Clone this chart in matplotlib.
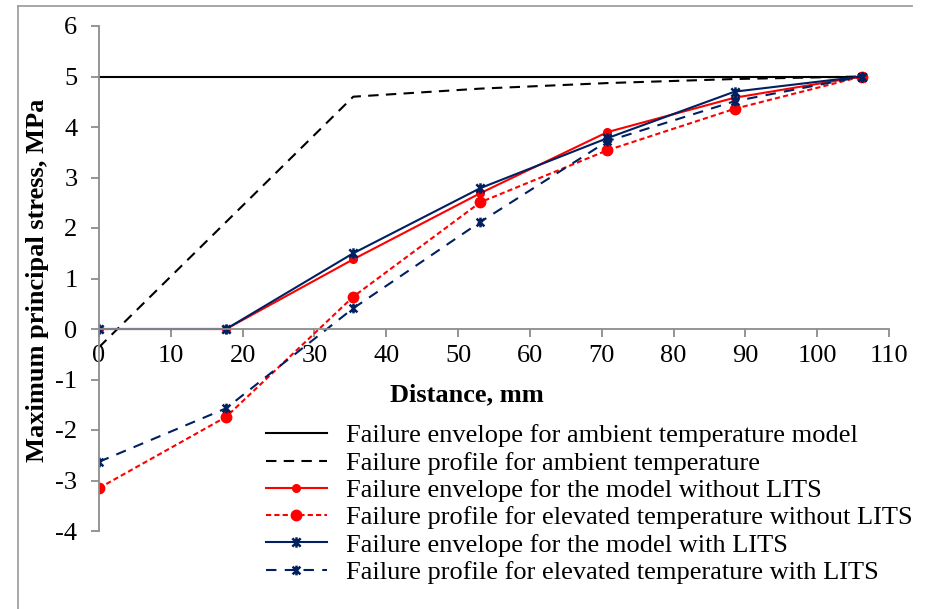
import matplotlib
matplotlib.use("Agg")
import matplotlib.pyplot as plt
from matplotlib.path import Path
from matplotlib.lines import Line2D

plt.rcParams['font.family'] = ['Liberation Serif', 'DejaVu Serif']

distance = [0, 17.7, 35.4, 53.1, 70.8, 88.5, 106.2]
env_ambient = [5, 5, 5, 5, 5, 5, 5]
prof_ambient = [-0.36, 2.12, 4.6, 4.76, 4.87, 4.95, 5.0]
env_no_lits = [0, 0, 1.38, 2.69, 3.9, 4.58, 5.0]
prof_no_lits = [-3.15, -1.74, 0.64, 2.51, 3.54, 4.36, 5.0]
env_lits = [0, 0, 1.5, 2.79, 3.78, 4.70, 5.0]
prof_lits = [-2.63, -1.57, 0.41, 2.12, 3.72, 4.51, 5.0]

labels = [
    "Failure envelope for ambient temperature model",
    "Failure profile for ambient temperature",
    "Failure envelope for the model without LITS",
    "Failure profile for elevated temperature without LITS",
    "Failure envelope for the model with LITS",
    "Failure profile for elevated temperature with LITS",
]
xticks = list(range(0, 111, 10))
yticks = list(range(-4, 7))

RED = '#FF0000'
NAVY = '#002060'
GRAY = '#8C8C8C'
FS = 19

star = Path([(-1, -1), (1, 1), (-1, 1), (1, -1), (0, -1.25), (0, 1.25)],
            [Path.MOVETO, Path.LINETO, Path.MOVETO, Path.LINETO, Path.MOVETO, Path.LINETO])

W, H = 937, 609
fig = plt.figure(figsize=(W / 100, H / 100), dpi=100)
ax = fig.add_axes([99 / W, (H - 531) / H, 790 / W, 505 / H])

ax.plot(distance, env_ambient, color='black', lw=1.5, label=labels[0])
ax.plot(distance, prof_ambient, color='black', lw=1.5, dashes=(5, 3.5), label=labels[1])
ax.plot(distance, env_no_lits, color=RED, lw=1.5, marker='o', ms=5.5, label=labels[2])
ax.plot(distance, prof_no_lits, color=RED, lw=1.5, dashes=(2.5, 1.5), marker='o', ms=7.5, label=labels[3])
ax.plot(distance, env_lits, color=NAVY, lw=1.5, marker=star, ms=7.5, mew=1.8, label=labels[4])
ax.plot(distance, prof_lits, color=NAVY, lw=1.5, dashes=(5, 4), marker=star, ms=7, mew=1.8, label=labels[5])

ax.set_xlim(0, 110)
ax.set_ylim(-4, 6)
ax.set_xticks(xticks)
ax.set_yticks(yticks)
ax.set_yticklabels([f"{t}" for t in yticks])

for s in ['top', 'right']:
    ax.spines[s].set_visible(False)
ax.spines['bottom'].set_position(('data', 0))
for s in ['left', 'bottom']:
    ax.spines[s].set_color(GRAY)
    ax.spines[s].set_linewidth(1.3)
ax.tick_params(axis='both', direction='out', length=5.5, width=1.3, color=GRAY,
               labelsize=FS, labelcolor='black')
ax.tick_params(axis='y', pad=10)
ax.tick_params(axis='x', pad=6)
ax.patch.set_alpha(0)

fig.text(467 / W, 1 - 395 / H, "Distance, mm", ha='center', va='center',
         fontsize=FS, fontweight='bold')
fig.text(38 / W, 1 - 280 / H, "Maximum principal stress, MPa", ha='center', va='center',
         rotation=90, fontsize=FS, fontweight='bold')

leg = ax.legend(loc='upper left', bbox_to_anchor=(266 / W, 1 - 424 / H),
                bbox_transform=fig.transFigure, frameon=False, fontsize=FS,
                handlelength=2.3, handletextpad=0.75, labelspacing=0.145,
                borderaxespad=0, borderpad=0)

# chart border (left and top visible)
fig.add_artist(Line2D([18 / W, 18 / W], [0, 1 - 6 / H], transform=fig.transFigure,
                      color='#A0A0A0', lw=1.3))
fig.add_artist(Line2D([18 / W, 912 / W], [1 - 6 / H, 1 - 6 / H], transform=fig.transFigure,
                      color='#A0A0A0', lw=1.3))

fig.savefig("out.png", dpi=100)
